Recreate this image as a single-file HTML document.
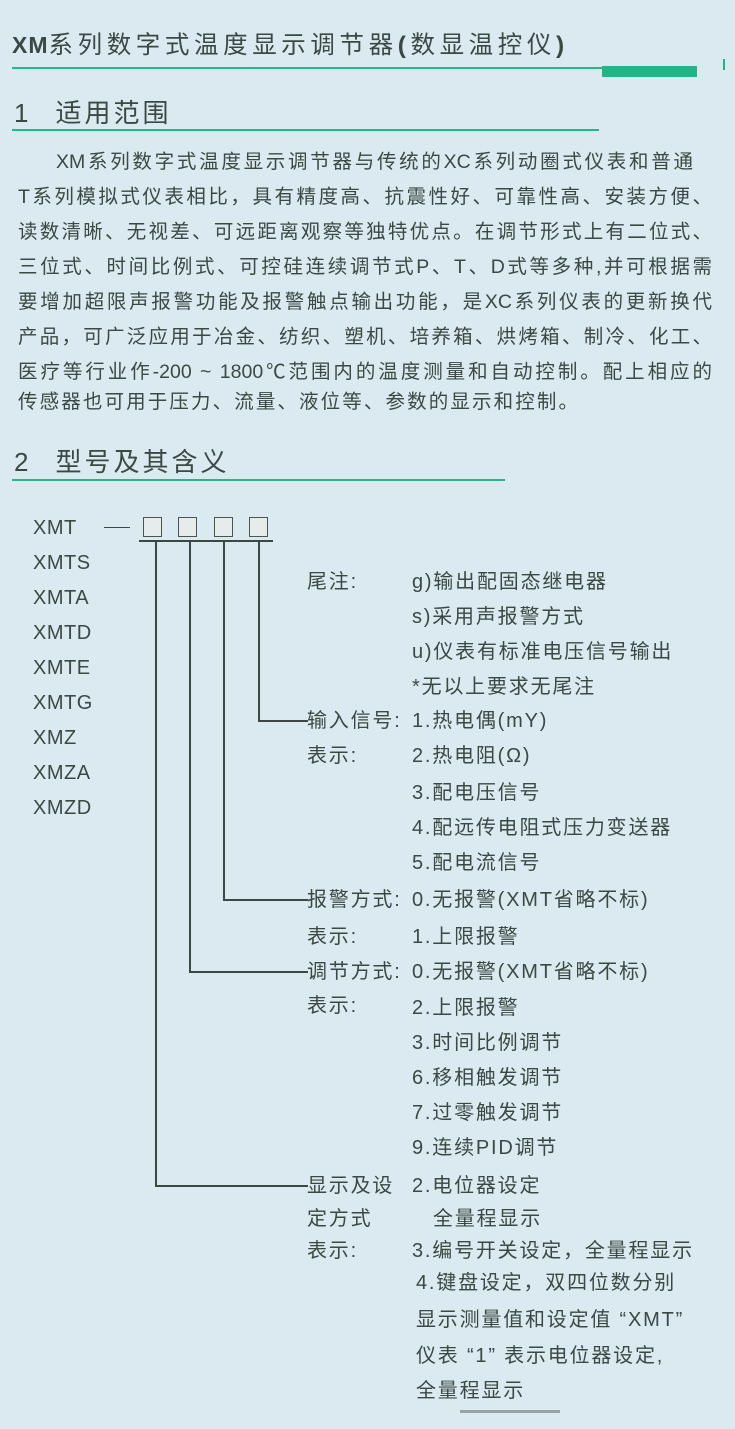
<!DOCTYPE html>
<html><head><meta charset="utf-8">
<style>
html,body{margin:0;padding:0}
body{width:735px;height:1429px;background:#dbeaf1;position:relative;overflow:hidden;
font-family:"Liberation Sans","Noto Sans CJK SC",sans-serif;color:#3c4843}
.a{position:absolute;white-space:nowrap;line-height:1}
.t{font-size:20px;letter-spacing:1.8px}
.x{font-size:20px;letter-spacing:0.5px}
.hl{position:absolute;background:#3c4843}
.p{position:absolute;left:18px;width:694px;font-size:19.5px;line-height:1;text-align:justify;text-align-last:justify;white-space:nowrap}
.box{position:absolute;top:517px;width:17px;height:18px;border:1.5px solid #4a554f;background:#e6ecec}
</style></head><body>
<div class="a" style="left:12px;top:34px;font-size:24.5px;letter-spacing:4.6px"><b style="font-size:23px;letter-spacing:1px">XM</b>系列数字式温度显示调节器<b>(</b>数显温控仪<b>)</b></div>
<div style="position:absolute;left:12px;top:67px;width:590px;height:2px;background:#25b58a"></div>
<div style="position:absolute;left:602px;top:66px;width:95px;height:11px;background:#22b487"></div>
<div style="position:absolute;left:723px;top:59px;width:2px;height:11px;background:#22b487"></div>

<div class="a" style="left:14px;top:100px;font-size:26px;letter-spacing:3px">1<span style="margin-left:24px">适用范围</span></div>
<div style="position:absolute;left:12px;top:129px;width:587px;height:2px;background:#25b58a"></div>

<div class="p" style="top:153px;left:56px;width:637px">XM系列数字式温度显示调节器与传统的XC系列动圈式仪表和普通</div>
<div class="p" style="top:188px">T系列模拟式仪表相比，具有精度高、抗震性好、可靠性高、安装方便、</div>
<div class="p" style="top:223px">读数清晰、无视差、可远距离观察等独特优点。在调节形式上有二位式、</div>
<div class="p" style="top:258px">三位式、时间比例式、可控硅连续调节式P、T、D式等多种,并可根据需</div>
<div class="p" style="top:293px">要增加超限声报警功能及报警触点输出功能，是XC系列仪表的更新换代</div>
<div class="p" style="top:328px">产品，可广泛应用于冶金、纺织、塑机、培养箱、烘烤箱、制冷、化工、</div>
<div class="p" style="top:363px">医疗等行业作-200 ~ 1800℃范围内的温度测量和自动控制。配上相应的</div>
<div class="p" style="top:393px;width:560px">传感器也可用于压力、流量、液位等、参数的显示和控制。</div>

<div class="a" style="left:14px;top:449px;font-size:26px;letter-spacing:3px">2<span style="margin-left:24px">型号及其含义</span></div>
<div style="position:absolute;left:12px;top:479px;width:493px;height:2px;background:#25b58a"></div>

<div class="a x" style="left:33px;top:518px">XMT</div>
<div class="a x" style="left:33px;top:553px">XMTS</div>
<div class="a x" style="left:33px;top:588px">XMTA</div>
<div class="a x" style="left:33px;top:623px">XMTD</div>
<div class="a x" style="left:33px;top:658px">XMTE</div>
<div class="a x" style="left:33px;top:693px">XMTG</div>
<div class="a x" style="left:33px;top:728px">XMZ</div>
<div class="a x" style="left:33px;top:763px">XMZA</div>
<div class="a x" style="left:33px;top:798px">XMZD</div>

<div class="hl" style="left:104px;top:527px;width:26px;height:1px"></div>
<div class="box" style="left:143px"></div>
<div class="box" style="left:178px"></div>
<div class="box" style="left:214px"></div>
<div class="box" style="left:249px"></div>
<div class="hl" style="left:139px;top:540px;width:134px;height:2px"></div>
<div class="hl" style="left:155px;top:541px;width:2px;height:645px"></div>
<div class="hl" style="left:189px;top:541px;width:2px;height:431px"></div>
<div class="hl" style="left:223px;top:541px;width:2px;height:359px"></div>
<div class="hl" style="left:258px;top:541px;width:2px;height:180px"></div>
<div class="hl" style="left:258px;top:720px;width:50px;height:2px"></div>
<div class="hl" style="left:223px;top:899px;width:85px;height:2px"></div>
<div class="hl" style="left:189px;top:971px;width:119px;height:2px"></div>
<div class="hl" style="left:155px;top:1185px;width:153px;height:2px"></div>

<div class="a t" style="left:307px;top:572px">尾注:</div>
<div class="a t" style="left:412px;top:572px">g)输出配固态继电器</div>
<div class="a t" style="left:412px;top:607px">s)采用声报警方式</div>
<div class="a t" style="left:412px;top:642px">u)仪表有标准电压信号输出</div>
<div class="a t" style="left:412px;top:677px">*无以上要求无尾注</div>
<div class="a t" style="left:307px;top:711px">输入信号:</div>
<div class="a t" style="left:412px;top:711px">1.热电偶(mY)</div>
<div class="a t" style="left:307px;top:746px">表示:</div>
<div class="a t" style="left:412px;top:746px">2.热电阻(Ω)</div>
<div class="a t" style="left:412px;top:783px">3.配电压信号</div>
<div class="a t" style="left:412px;top:818px">4.配远传电阻式压力变送器</div>
<div class="a t" style="left:412px;top:853px">5.配电流信号</div>
<div class="a t" style="left:307px;top:890px">报警方式:</div>
<div class="a t" style="left:412px;top:890px">0.无报警(XMT省略不标)</div>
<div class="a t" style="left:307px;top:927px">表示:</div>
<div class="a t" style="left:412px;top:927px">1.上限报警</div>
<div class="a t" style="left:307px;top:962px">调节方式:</div>
<div class="a t" style="left:412px;top:962px">0.无报警(XMT省略不标)</div>
<div class="a t" style="left:307px;top:996px">表示:</div>
<div class="a t" style="left:412px;top:998px">2.上限报警</div>
<div class="a t" style="left:412px;top:1033px">3.时间比例调节</div>
<div class="a t" style="left:412px;top:1068px">6.移相触发调节</div>
<div class="a t" style="left:412px;top:1103px">7.过零触发调节</div>
<div class="a t" style="left:412px;top:1138px">9.连续PID调节</div>
<div class="a t" style="left:307px;top:1176px">显示及设</div>
<div class="a t" style="left:412px;top:1176px">2.电位器设定</div>
<div class="a t" style="left:307px;top:1209px">定方式</div>
<div class="a t" style="left:433px;top:1209px">全量程显示</div>
<div class="a t" style="left:307px;top:1241px">表示:</div>
<div class="a t" style="left:412px;top:1241px">3.编号开关设定，全量程显示</div>
<div class="a t" style="left:416px;top:1273px">4.键盘设定，双四位数分别</div>
<div class="a t" style="left:416px;top:1310px">显示测量值和设定值 “XMT”</div>
<div class="a t" style="left:416px;top:1346px">仪表 “1” 表示电位器设定,</div>
<div class="a t" style="left:416px;top:1381px">全量程显示</div>
<div style="position:absolute;left:460px;top:1410px;width:100px;height:3px;background:#6a7570;opacity:.6"></div>
</body></html>
